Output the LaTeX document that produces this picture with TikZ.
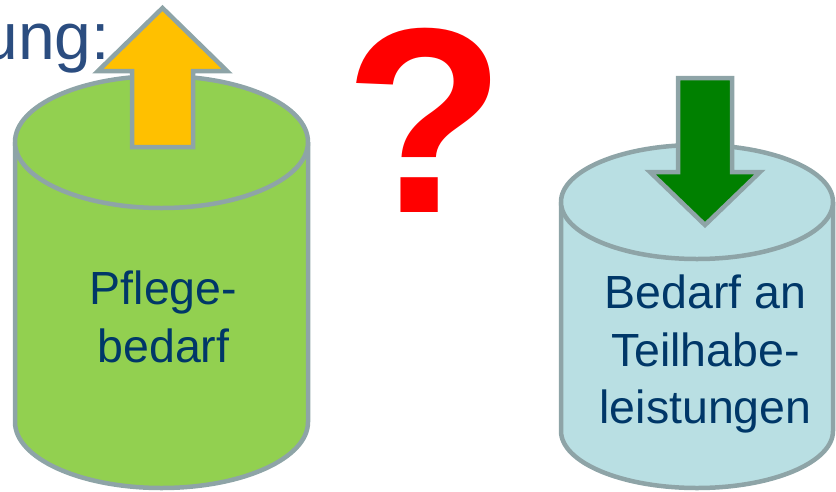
\documentclass[tikz,border=0pt]{standalone}
\usepackage{fontspec}
\setmainfont{Liberation Sans}
\usepackage{tikz}
\usetikzlibrary{positioning,calc}
\definecolor{rim_gray}{HTML}{8EA4A7}
\definecolor{care_green}{HTML}{92D050}
\definecolor{part_blue}{HTML}{B9DFE3}
\definecolor{up_orange}{HTML}{FFC000}
\definecolor{down_green}{HTML}{008000}
\definecolor{ask_red}{HTML}{FF0000}
\definecolor{label_blue}{HTML}{003768}
\definecolor{head_blue}{HTML}{2B4D80}
\tikzset{
  barrel/.style={draw=rim_gray, line width=4.5pt, line join=round},
  blockarrow/.style={draw=rim_gray, line width=4.5pt, line join=miter},
  barrellabel/.style={text=label_blue, align=center, inner sep=0pt,
                      font=\fontsize{46.5}{57.5}\selectfont},
  headline/.style={text=head_blue, inner sep=0pt, font=\fontsize{66}{70}\selectfont},
  askmark/.style={text=ask_red, inner sep=0pt, font=\fontsize{264}{270}\selectfont\bfseries},
}
% cylinder: centre x, top centre y, bottom centre y, x radius, y radius, fill
\newcommand{\barrel}[6]{%
  \fill[#6] (#1-#4,#2) -- (#1-#4,#3) arc[start angle=180, end angle=0,
        x radius=#4, y radius=#5] -- (#1+#4,#2) -- cycle;
  \draw[barrel] (#1-#4,#2) -- (#1-#4,#3) arc[start angle=180, end angle=0,
        x radius=#4, y radius=#5] -- (#1+#4,#2);
  \draw[barrel, fill=#6] (#1,#2) ellipse[x radius=#4, y radius=#5];
}

\begin{document}
\begin{tikzpicture}[x=1pt, y=-1pt]
  \useasboundingbox (0,0) rectangle (836,491);

  % --- heading remainder ---------------------------------------------------
  \node[headline, anchor=base east] (heading) at (110,59) {ung:};

  % --- cylinders -----------------------------------------------------------
  \barrel{161.5}{142}{422}{146.5}{66}{care_green}
  \barrel{697}{202}{431}{136}{57}{part_blue}

  % --- arrows --------------------------------------------------------------
  \draw[blockarrow, fill=up_orange]
    (132,147) -- (132,71) -- (98,71) -- (162.5,8) -- (227,71) -- (193,71)
    -- (193,147) -- cycle;
  \draw[blockarrow, fill=down_green]
    (678,78) -- (678,172) -- (650,172) -- (705,225) -- (760,172) -- (732,172)
    -- (732,78) -- cycle;

  % --- labels --------------------------------------------------------------
  \node[barrellabel] (pflege) at (163.5,317) {Pflege-\\bedarf};
  \node[barrellabel] (teilhabe) at (705.5,354) {Bedarf an\\Teilhabe-\\leistungen};

  \node[askmark, anchor=base] (frage) at (425,212) {?};

\end{tikzpicture}
\end{document}
